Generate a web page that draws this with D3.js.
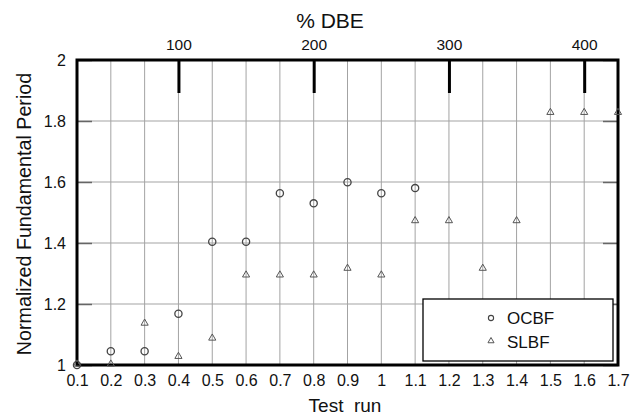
<!DOCTYPE html>
<html>
<head>
<meta charset="utf-8">
<script src="https://cdn.jsdelivr.net/npm/d3@7"></script>
<style>
  html, body { margin: 0; padding: 0; background: #fff; }
  svg { display: block; font-family: "Liberation Sans", Arial, sans-serif; }
</style>
</head>
<body>
<svg id="chart" width="643" height="416"></svg>
<script>
// Test runs and normalized fundamental periods
const runs = [0.1, 0.2, 0.3, 0.4, 0.5, 0.6, 0.7, 0.8, 0.9, 1.0, 1.1, 1.2, 1.3, 1.4, 1.5, 1.6, 1.7];
const ocbfRuns = [0.1, 0.2, 0.3, 0.4, 0.5, 0.6, 0.7, 0.8, 0.9, 1.0, 1.1];
const ocbfPeriod = [1.0, 1.045, 1.045, 1.168, 1.404, 1.404, 1.563, 1.530, 1.599, 1.563, 1.580];
const slbfRuns = runs;
const slbfPeriod = [1.0, 1.0, 1.134, 1.025, 1.085, 1.292, 1.292, 1.292, 1.314, 1.292,
                    1.470, 1.470, 1.314, 1.470, 1.825, 1.825, 1.825];
const yTicks = [1, 1.2, 1.4, 1.6, 1.8, 2];
const dbeTicks = [100, 200, 300, 400];
const seriesNames = ["OCBF", "SLBF"];

const svg = d3.select("#chart");
const W = 643, H = 416;
const margin = { left: 77, right: W - 618, top: 60, bottom: H - 365 };
const x0 = margin.left, x1 = W - margin.right, y0 = margin.top, y1 = H - margin.bottom;
const FONT = "Liberation Sans, Arial, sans-serif";

const x = d3.scaleLinear().domain([0.1, 1.7]).range([x0, x1]);
const y = d3.scaleLinear().domain([1, 2]).range([y1, y0]);
// % DBE = 250 x test run
const xTop = d3.scaleLinear().domain([0.1 * 250, 1.7 * 250]).range([x0, x1]);

const fmt = d => (Math.round(d * 10) / 10).toString();

// grid
const grid = svg.append("g").attr("stroke", "#a3a3a3").attr("stroke-width", 1);
grid.selectAll("line.v").data(runs.slice(1, -1)).join("line")
  .attr("x1", d => x(d)).attr("x2", d => x(d)).attr("y1", y0).attr("y2", y1);
grid.selectAll("line.h").data(yTicks.slice(1, -1)).join("line")
  .attr("y1", d => y(d)).attr("y2", d => y(d)).attr("x1", x0).attr("x2", x1);

// inward y ticks on both sides
const yAxisL = d3.axisLeft(y).tickValues(yTicks).tickSize(-15).tickFormat(d => d3.format("~g")(d));
const gL = svg.append("g").attr("transform", `translate(${x0},0)`).call(yAxisL);
const yAxisR = d3.axisRight(y).tickValues(yTicks).tickSize(-15).tickFormat("");
const gR = svg.append("g").attr("transform", `translate(${x1},0)`).call(yAxisR);
[gL, gR].forEach(g => {
  g.select(".domain").remove();
  g.selectAll(".tick line").attr("stroke", "#666").attr("stroke-width", 1.5);
});
gL.selectAll(".tick text").attr("font-size", 16).attr("fill", "#111")
  .attr("font-family", FONT).attr("x", -11);

// bottom axis labels
const xAxis = d3.axisBottom(x).tickValues(runs).tickSize(0).tickPadding(10).tickFormat(fmt);
const gB = svg.append("g").attr("transform", `translate(0,${y1})`).call(xAxis);
gB.select(".domain").remove();
gB.selectAll(".tick text").attr("font-size", 16).attr("fill", "#111")
  .attr("font-family", FONT);

// top % DBE axis: thick inward ticks
const topAxis = d3.axisTop(xTop).tickValues(dbeTicks).tickSize(-33).tickPadding(10).tickFormat(d3.format("d"));
const gT = svg.append("g").attr("transform", `translate(0,${y0})`).call(topAxis);
gT.select(".domain").remove();
gT.selectAll(".tick line").attr("stroke", "#000").attr("stroke-width", 3);
gT.selectAll(".tick text").attr("font-size", 15.5).attr("fill", "#111")
  .attr("font-family", FONT);

// frame
svg.append("rect").attr("x", x0).attr("y", y0).attr("width", x1 - x0).attr("height", y1 - y0)
  .attr("fill", "none").attr("stroke", "#000").attr("stroke-width", 3);

// markers
const tri = d3.symbol().type(d3.symbolTriangle).size(22);
svg.append("g").selectAll("path").data(slbfRuns.map((r, i) => [r, slbfPeriod[i]])).join("path")
  .attr("d", tri).attr("transform", d => `translate(${x(d[0])},${y(d[1]) - 1})`)
  .attr("fill", "none").attr("stroke", "#555").attr("stroke-width", 1);
svg.append("g").selectAll("circle").data(ocbfRuns.map((r, i) => [r, ocbfPeriod[i]])).join("circle")
  .attr("cx", d => x(d[0])).attr("cy", d => y(d[1])).attr("r", 3.6)
  .attr("fill", "none").attr("stroke", "#444").attr("stroke-width", 1.3);

// axis titles
svg.append("text").attr("x", 330).attr("y", 28).attr("text-anchor", "middle")
  .attr("font-size", 21).attr("fill", "#111").text("% DBE");
svg.append("text").attr("x", 345).attr("y", 412).attr("text-anchor", "middle")
  .attr("font-size", 19).attr("fill", "#111").attr("xml:space", "preserve").text("Test  run");
svg.append("text").attr("transform", "translate(31,214) rotate(-90)").attr("text-anchor", "middle")
  .attr("font-size", 19.7).attr("fill", "#111").text("Normalized Fundamental Period");

// legend
const lg = svg.append("g");
lg.append("rect").attr("x", 423).attr("y", 299).attr("width", 190).attr("height", 62)
  .attr("fill", "#fff").attr("stroke", "#000").attr("stroke-width", 1.3);
const legendRows = [
  { name: seriesNames[0], cy: 318 },
  { name: seriesNames[1], cy: 342 }
];
legendRows.forEach((r, i) => {
  if (i === 0) {
    lg.append("circle").attr("cx", 491).attr("cy", r.cy).attr("r", 2.6)
      .attr("fill", "none").attr("stroke", "#444").attr("stroke-width", 1.1);
  } else {
    lg.append("path").attr("d", d3.symbol().type(d3.symbolTriangle).size(16))
      .attr("transform", `translate(491,${r.cy - 1})`)
      .attr("fill", "none").attr("stroke", "#555").attr("stroke-width", 1);
  }
  lg.append("text").attr("x", 507).attr("y", r.cy + 6).attr("font-size", 17)
    .attr("fill", "#111").text(r.name);
});
</script>
</body>
</html>
